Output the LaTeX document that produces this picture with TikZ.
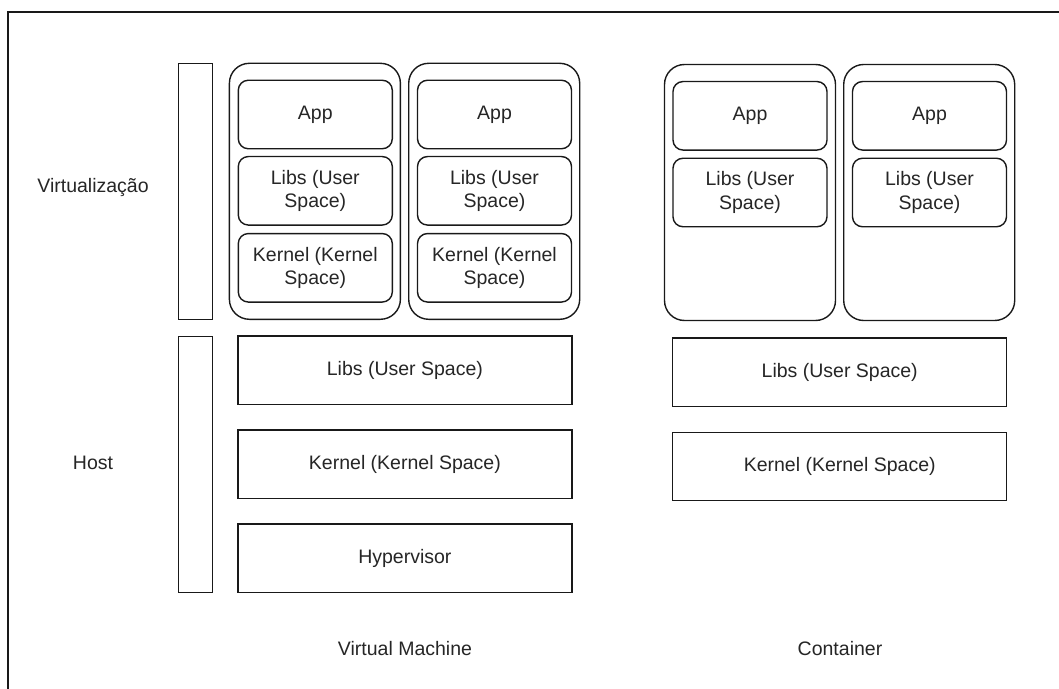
\documentclass[tikz,border=0pt]{standalone}
\usepackage{fontspec}
\setmainfont{Liberation Sans}
\begin{document}
\begin{tikzpicture}[x=1bp,y=-1bp,
  base/.style={draw=black!90, line width=1.4bp, inner sep=0pt, align=center,
    text=black!85, font=\fontsize{19.5bp}{23.5bp}\selectfont},
  bar/.style={base, minimum width=34bp, minimum height=256bp},
  outerbox/.style={base, rounded corners=20bp, minimum width=171bp, minimum height=256bp},
  innerbox/.style={base, rounded corners=10bp, minimum width=154bp, minimum height=68.5bp},
  hostbox/.style={base, minimum width=334bp, minimum height=68.5bp},
  label/.style={inner sep=0pt, text=black!85, font=\fontsize{19.5bp}{23.5bp}\selectfont}
]
\useasboundingbox (0,0) rectangle (1059,689);
\fill[white] (0,0) rectangle (1059,689);
% outer frame (clipped at right and bottom)
\coordinate (fbl) at (8,689);
\coordinate (ftl) at (8,12);
\coordinate (ftr) at (1059,12);
\draw[line width=1.4bp, black!90] (fbl) -- (ftl) -- (ftr);

% side bars
\node[bar] (vbar) at (195.5,191.3) {};
\node[bar] (hbar) at (195.5,464.2) {};
\node[label] (lvirt) at (93,188) {Virtualização};
\node[label] (lhost) at (93,463) {Host};

% VM guests
\node[outerbox] (vm1) at (314.9,191.3) {};
\node[outerbox] (vm2) at (494.2,191.3) {};
\node[innerbox] (vm1app) at (315.3,114.5) {App};
\node[innerbox] (vm1libs) at (315.3,190.8) {Libs (User\\Space)};
\node[innerbox] (vm1kern) at (315.3,267.8) {Kernel (Kernel\\Space)};
\node[innerbox] (vm2app) at (494.5,114.5) {App};
\node[innerbox] (vm2libs) at (494.5,190.8) {Libs (User\\Space)};
\node[innerbox] (vm2kern) at (494.5,267.8) {Kernel (Kernel\\Space)};

% VM host
\node[hostbox] (vmlibs) at (404.9,370.2) {Libs (User Space)};
\node[hostbox] (vmkern) at (404.9,464.2) {Kernel (Kernel Space)};
\node[hostbox] (vmhyp) at (404.9,558.3) {Hypervisor};
\node[label] (lvm) at (405,649) {Virtual Machine};

% Containers
\node[outerbox] (c1) at (750,192.5) {};
\node[outerbox] (c2) at (929.2,192.5) {};
\node[innerbox] (c1app) at (750,115.8) {App};
\node[innerbox] (c1libs) at (750,192.5) {Libs (User\\Space)};
\node[innerbox] (c2app) at (929.5,115.8) {App};
\node[innerbox] (c2libs) at (929.5,192.5) {Libs (User\\Space)};

% Container host
\node[hostbox] (clibs) at (839.7,372.2) {Libs (User Space)};
\node[hostbox] (ckern) at (839.7,466.5) {Kernel (Kernel Space)};
\node[label] (lct) at (840,649) {Container};
\end{tikzpicture}
\end{document}
